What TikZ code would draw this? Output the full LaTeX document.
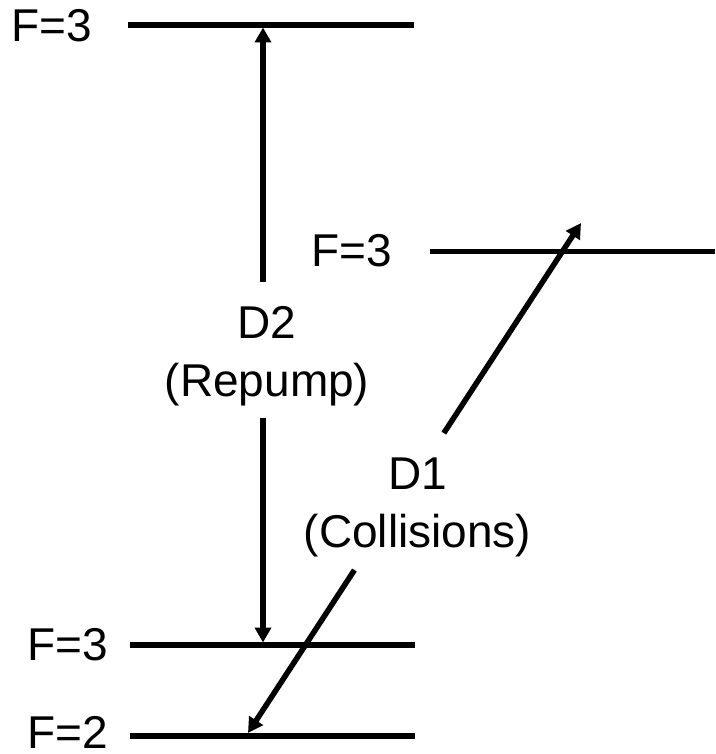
\documentclass[tikz,border=0pt]{standalone}
\usepackage{fontspec}
\setmainfont{Liberation Sans}
\usetikzlibrary{arrows.meta,calc}
\begin{document}
\begin{tikzpicture}[x=1pt,y=-1pt,
  level/.style={line width=5.5pt},
  tipped/.style={line width=5.5pt,-{Triangle[length=15pt,width=16pt]}},
  lab/.style={font=\fontsize{46}{58}\selectfont,inner sep=0pt},
  tlab/.style={font=\fontsize{46}{58}\selectfont,align=center,inner sep=0pt}]
\useasboundingbox (0,0) rectangle (715,754);
% levels
\coordinate (t1) at (128,25);  \coordinate (t2) at (414,25);
\coordinate (m1) at (430,251.5); \coordinate (m2) at (715,251.5);
\coordinate (g1) at (130,645); \coordinate (g2) at (415,645);
\coordinate (f1) at (130,736); \coordinate (f2) at (415,736);
\draw[level] (t1) -- (t2);
\draw[level] (m1) -- (m2);
\draw[level] (g1) -- (g2);
\draw[level] (f1) -- (f2);
% labels
\node[lab] (lt) at (52,26) {F=3};
\node[lab] (lm) at (352,251) {F=3};
\node[lab] (lg) at (68,645) {F=3};
\node[lab] (lf) at (68,732) {F=2};
% transition texts
\node[tlab] (d2) at (267,356) {D2\\(Repump)};
\node[tlab] (d1) at (417.5,507.5) {D1\\(Collisions)};
% transitions (broken by their texts)
\coordinate (d2a) at (263,642.5); \coordinate (d2b) at (263,27.5);
\coordinate (d2hi) at (263,282);  \coordinate (d2lo) at (263,418);
\coordinate (d1a) at (248,733); \coordinate (d1b) at (581,223);
\coordinate (d1lo) at ($(d1a)!0.3196!(d1b)$);
\coordinate (d1hi) at ($(d1a)!0.588!(d1b)$);
\draw[tipped] (d2hi) -- (d2b);
\draw[tipped] (d2lo) -- (d2a);
\draw[tipped] (d1hi) -- (d1b);
\draw[tipped] (d1lo) -- (d1a);
\end{tikzpicture}
\end{document}
